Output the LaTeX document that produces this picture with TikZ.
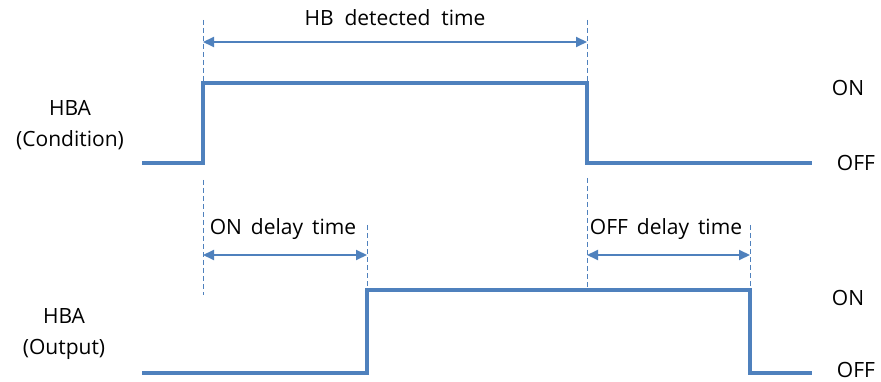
\documentclass[tikz,border=0pt]{standalone}
\usepackage{fontspec}
\setmainfont{Open Sans}
\usetikzlibrary{calc,arrows.meta}
\definecolor{sigblue}{RGB}{79,129,189}

\begin{document}
\begin{tikzpicture}[x=1pt,y=-1pt,
    signal/.style={draw=sigblue, line width=3.2pt, line join=miter},
    guide/.style={draw=sigblue, line width=1pt, dash pattern=on 5pt off 3pt},
    span/.style={draw=sigblue, line width=2pt, {Triangle[width=10pt,length=11pt]}-{Triangle[width=10pt,length=11pt]}},
    lbl/.style={font=\fontsize{21}{31}\selectfont, inner sep=0pt, align=center}]
        \useasboundingbox (0,0) rectangle (881,382);
        %
        \def\lowA{163} \def\highA{83}
        \def\lowB{373} \def\highB{290}

        \coordinate (A0) at (142,\lowA);
        \coordinate (A1) at (203,\lowA);
        \coordinate (A2) at (203,\highA);
        \coordinate (A3) at (587,\highA);
        \coordinate (A4) at (587,\lowA);
        \coordinate (A5) at (812,\lowA);

        \coordinate (B0) at (142,\lowB);
        \coordinate (B1) at (367,\lowB);
        \coordinate (B2) at (367,\highB);
        \coordinate (B3) at (750,\highB);
        \coordinate (B4) at (750,\lowB);
        \coordinate (B5) at (812,\lowB);

        \draw[signal] (A0) -- (A1) -- (A2) -- (A3) -- (A4) -- (A5);
        \draw[signal] (B0) -- (B1) -- (B2) -- (B3) -- (B4) -- (B5);

        %
        \coordinate (T1) at (203,20);
        \coordinate (T2) at (587,20);
        \coordinate (U1) at (203,180);
        \coordinate (U1e) at (203,295);
        \coordinate (U2) at (367,225);
        \coordinate (U3) at (587,178);
        \coordinate (U3e) at (587,290);
        \coordinate (U4) at (750,225);

        \draw[guide] (T1) -- (A2);
        \draw[guide] (T2) -- (A3);
        \draw[guide] (U1) -- (U1e);
        \draw[guide] (U2) -- (B2);
        \draw[guide] (U3) -- (U3e);
        \draw[guide] (U4) -- (B3);

        %
        \draw[span] (203,42) -- (587,42);
        \draw[span] (203,255) -- (367,255);
        \draw[span] (587,255) -- (750,255);

        \node[lbl] (hb) at (395,18) {HB\ \ detected\ \ time};
        \node[lbl] (ondly) at (283,229) {ON\ \,delay\ \,time};
        \node[lbl] (offdly) at (666,229) {OFF\ \,delay\ \,time};

        \node[lbl] (cond) at (70,125) {HBA\\(Condition)};
        \node[lbl] (outp) at (64,334) {HBA\\(Output)};

        \node[lbl] (onA) at (848,88) {ON};
        \node[lbl] (offA) at (856,163) {OFF};
        \node[lbl] (onB) at (848,298) {ON};
        \node[lbl] (offB) at (856,370) {OFF};
    \end{tikzpicture}
\end{document}
